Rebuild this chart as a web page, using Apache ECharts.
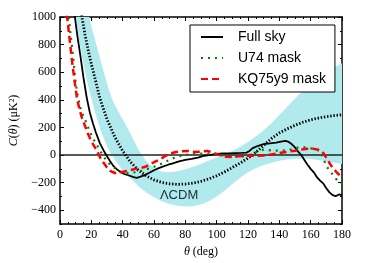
<!DOCTYPE html>
<html><head><meta charset="utf-8">
<script src="https://cdn.jsdelivr.net/npm/echarts@6/dist/echarts.min.js"></script>
<style>html,body{margin:0;padding:0;background:#fff}#c{width:381px;height:263px}</style>
</head><body><div id="c"></div>
<script>
// ---- data (theta in degrees, C(theta) in muK^2) ----
const fullSkyTheta = [8,9.5,11,13,15,17,19,21,23,25.5,28,30,32,34,36,38,41,44,47,49,51,54,57,60,63,66,69,72,76,80,84,88,92,96,100,104,108,112,116,119,121,123,126,130,134,138,141,144,146,148,150,152,154,156,158,160,162,164,166,168,170,172,174,176,178,179,180];
const fullSkyValues = [1130,1000,870,720,560,420,310,230,160,85,30,-8,-45,-78,-100,-118,-137,-148,-160,-165,-158,-145,-128,-110,-95,-82,-70,-60,-45,-35,-28,-18,-5,2,8,12,12,14,16,18,30,50,65,80,85,90,97,102,95,78,55,25,0,-35,-70,-100,-125,-160,-185,-205,-240,-270,-290,-298,-285,-295,-290];

const u74Theta = [4.5,5.7,7,8.5,10,11.5,13,15,17,19,21,23.4,25.5,27.6,30,32,34,37,41.5,45,49,53,56,60,64,68,71,75,79,85,90,96,102,108,114,120,125,130,136,142,147,152,157,162,166,168,170,172,174,176,178,180];
const u74Values = [1100,980,850,700,520,420,340,280,230,170,120,78,30,-5,-45,-70,-87,-110,-133,-130,-122,-112,-100,-85,-66,-45,-28,-12,0,8,10,8,0,-8,-12,-5,20,40,32,32,40,55,55,45,30,-20,-80,-110,-140,-170,-195,-205];

const kq75Theta = [3.5,4.9,6.5,8,9.5,11,12.5,14,16,18,20,22.3,24,25.5,27.5,29.8,32,35,38,42.5,48,54,60,64,67,70,74,78,82,86,90,94,98,102,106,110,114,118,122,126,130,134,138,142,146,150,154,158,162,165,167,169,171,173,175,177,179,180];
const kq75Values = [1100,967,800,650,520,400,330,270,210,150,100,55,20,-16,-50,-87,-115,-130,-128,-116,-100,-87,-52,-30,-8,10,22,28,30,22,25,30,15,0,-12,-15,-8,-5,-5,-5,-3,3,10,18,25,32,40,45,45,38,30,0,-40,-75,-105,-130,-150,-160];

const lcdmTheta = [13,14,16,18,20,22,25.5,30,35,40,45,50,55,60,65,70,75,80,85,90,95,100,105,110,115,120,125,130,135,140,145,150,155,160,165,170,175,180];
const lcdmValues = [1060,1000,870,760,660,570,410,260,130,30,-50,-110,-150,-180,-198,-208,-212,-210,-203,-190,-172,-150,-122,-90,-58,-22,20,70,120,160,190,215,238,255,268,278,286,292];

const bandTheta = [6,8,10,12,14,16,18,20,22,24,26,28,30,32,34,36,38,40,42,44,46,48,50,55,60,65,70,75,80,85,90,95,100,105,110,115,120,125,130,135,140,145,150,155,160,165,170,175,180];
const bandUpper = [1700,1550,1420,1300,1220,1140,1030,935,850,765,680,600,520,445,385,340,300,260,220,175,130,85,40,-45,-95,-120,-125,-118,-103,-85,-64,-40,-18,5,30,60,95,135,180,230,290,350,410,465,515,560,600,635,665];
const bandLower = [1400,1180,1000,850,720,600,500,410,325,250,180,120,65,20,-15,-50,-80,-110,-135,-158,-180,-203,-225,-270,-305,-335,-355,-367,-372,-370,-358,-335,-300,-258,-210,-165,-125,-95,-72,-55,-42,-33,-27,-25,-28,-35,-45,-55,-65];

const xTicks = [0,20,40,60,80,100,120,140,160,180];
const yTicks = [-400,-200,0,200,400,600,800,1000];
const seriesNames = ['Full sky','U74 mask','KQ75y9 mask'];
const seriesColors = ['#000000','#008000','#ff0000'];
const lcdmLabel = 'ΛCDM';
const lcdmLabelAt = [76,-295];

// ---- build ----
const pairs = (t, v) => t.map((x, i) => [x, v[i]]);
const serif = 'Liberation Serif';
const fmt = v => (v % 200 !== 0 ? '' : (v < 0 ? '\u2212' + Math.abs(v) : String(v)));

const chart = echarts.init(document.getElementById('c'), null, {renderer: 'canvas'});

const xBase = {
  type: 'value', min: 0, max: 180, interval: 20,
  axisLine: {show: true, onZero: false, lineStyle: {color: '#000', width: 1.5}},
  axisTick: {show: true, inside: true, length: 4, lineStyle: {color: '#000', width: 1}},
  minorTick: {show: true, splitNumber: 4, length: 2, lineStyle: {color: '#000', width: 1}},
  splitLine: {show: false}, minorSplitLine: {show: false}
};
const yBase = {
  type: 'value', min: -500, max: 1000, interval: 100,
  axisLine: {show: true, onZero: false, lineStyle: {color: '#000', width: 1.5}},
  axisTick: {show: true, inside: true, length: 4, customValues: yTicks, lineStyle: {color: '#000', width: 1}},
  axisLabel: {show: false},
  splitLine: {show: false}
};
const yMinor = {
  type: 'value', min: -500, max: 1000, interval: 100,
  axisLine: {show: false, onZero: false},
  axisTick: {show: true, inside: true, length: 2, lineStyle: {color: '#000', width: 1}},
  axisLabel: {show: false},
  splitLine: {show: false}
};

function renderBand(params, api) {
  if (params.dataIndex !== 0) return null;
  const pts = [];
  for (let i = 0; i < bandTheta.length; i++) pts.push(api.coord([bandTheta[i], bandUpper[i]]));
  for (let i = bandTheta.length - 1; i >= 0; i--) pts.push(api.coord([bandTheta[i], bandLower[i]]));
  return {
    type: 'polygon',
    shape: {points: pts},
    style: {fill: 'rgb(176,234,236)', stroke: null}
  };
}

chart.setOption({
  animation: false,
  backgroundColor: '#fff',
  grid: {left: 60, right: 39, top: 17, bottom: 35, containLabel: false},
  xAxis: [
    Object.assign({}, xBase, {
      position: 'bottom',
      axisLabel: {show: true, customValues: xTicks, margin: 5, fontFamily: serif, fontSize: 12, color: '#000'},
      name: '{i|θ} (deg)', nameLocation: 'middle', nameGap: 19,
      nameTextStyle: {fontFamily: serif, fontSize: 12, color: '#000',
        rich: {i: {fontFamily: serif, fontStyle: 'italic', fontSize: 12, color: '#000'}}}
    }),
    Object.assign({}, xBase, {position: 'top', axisLabel: {show: false}})
  ],
  yAxis: [
    Object.assign({}, yBase, {
      position: 'left',
      axisLabel: {show: true, customValues: yTicks, formatter: fmt, margin: 4, fontFamily: serif, fontSize: 12, color: '#000'},
      name: '{i|C}({i|θ}) (μK²)', nameLocation: 'middle', nameGap: 37, nameRotate: 90,
      nameTextStyle: {fontFamily: serif, fontSize: 12, color: '#000',
        rich: {i: {fontFamily: serif, fontStyle: 'italic', fontSize: 12, color: '#000'}}}
    }),
    Object.assign({}, yBase, {position: 'right'}),
    Object.assign({}, yMinor, {position: 'left'}),
    Object.assign({}, yMinor, {position: 'right'})
  ],
  legend: {
    data: seriesNames,
    orient: 'vertical', left: 190, top: 25,
    padding: [5, 9, 6, 10],
    itemWidth: 22, itemHeight: 14, itemGap: 7,
    itemStyle: {opacity: 0},
    backgroundColor: '#fff', borderColor: '#000', borderWidth: 1, borderRadius: 0,
    textStyle: {fontFamily: 'Liberation Sans', fontSize: 14, color: '#000', padding: [0, 0, 0, 10]}
  },
  series: [
    {
      name: 'band', type: 'custom', silent: true, clip: true, z: 1,
      renderItem: renderBand,
      encode: {x: 0, y: [1, 2]},
      data: bandTheta.map((x, i) => [x, bandLower[i], bandUpper[i]])
    },
    {
      name: 'zero', type: 'line', symbol: 'none', silent: true,
      data: [[0, 0], [180, 0]], lineStyle: {color: '#222', width: 1.5}, z: 2
    },
    {
      name: 'lcdm', type: 'line', symbol: 'none', data: pairs(lcdmTheta, lcdmValues),
      lineStyle: {color: '#000', width: 2.8, type: [1.4, 1.8]}, z: 3,
      markPoint: {
        symbol: 'circle', symbolSize: 1, itemStyle: {color: 'rgba(0,0,0,0)'},
        label: {show: true, formatter: lcdmLabel, position: 'inside', fontFamily: 'Liberation Sans', fontSize: 13, color: '#1c2f3a'},
        data: [{coord: lcdmLabelAt}]
      }
    },
    {
      name: seriesNames[0], type: 'line', symbol: 'none', color: seriesColors[0],
      data: pairs(fullSkyTheta, fullSkyValues),
      lineStyle: {color: seriesColors[0], width: 1.8}, z: 4
    },
    {
      name: seriesNames[1], type: 'line', symbol: 'none', color: seriesColors[1],
      data: pairs(u74Theta, u74Values),
      lineStyle: {color: seriesColors[1], width: 2.2, type: [2, 5]}, z: 5
    },
    {
      name: seriesNames[2], type: 'line', symbol: 'none', color: seriesColors[2],
      data: pairs(kq75Theta, kq75Values),
      lineStyle: {color: seriesColors[2], width: 2.5, type: [7, 4]}, z: 6
    }
  ]
});
</script>
</body></html>
